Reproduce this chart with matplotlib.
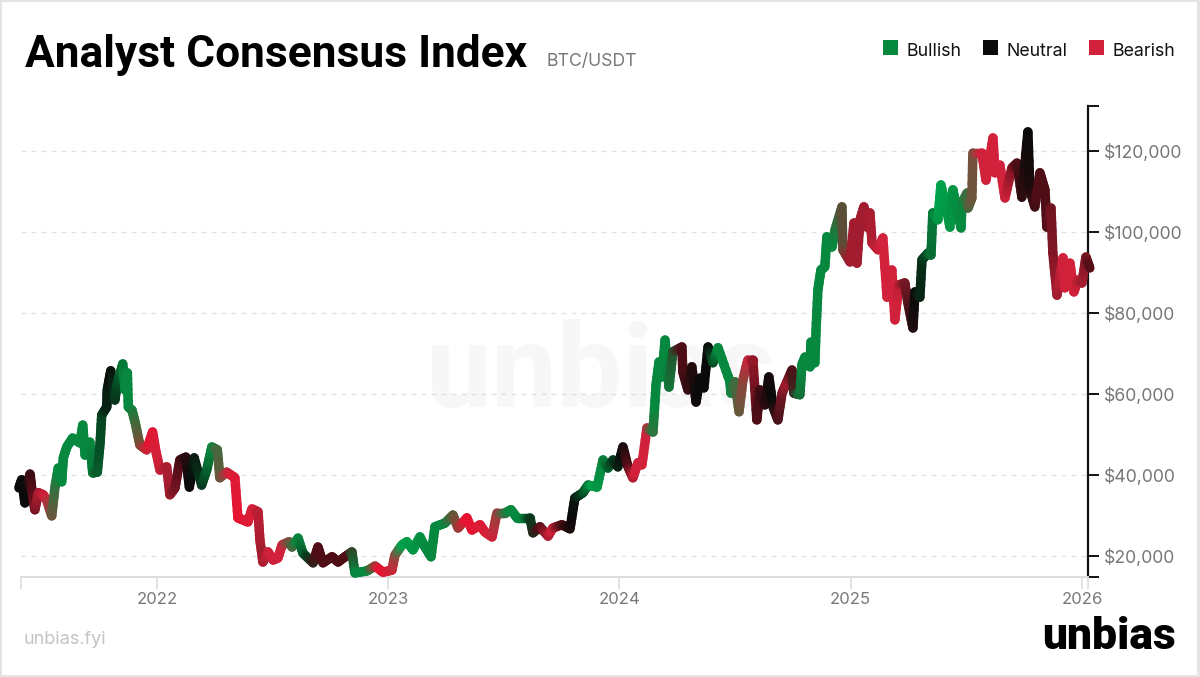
import numpy as np
import matplotlib
matplotlib.use("Agg")
import matplotlib.pyplot as plt
from matplotlib.collections import LineCollection
from matplotlib.colors import to_rgb
from matplotlib.patches import Rectangle

years = [
2021.403,2021.415,2021.429,2021.437,2021.451,2021.463,2021.472,2021.487,2021.508,2021.523,2021.545,2021.559,2021.573,2021.588,2021.595,2021.610,2021.635,2021.667,2021.679,2021.689,
2021.710,2021.722,2021.742,2021.754,2021.761,2021.783,2021.785,2021.800,2021.818,2021.828,2021.852,2021.862,2021.872,2021.876,2021.892,2021.905,2021.926,2021.955,2021.981,2021.994,
2022.013,2022.042,2022.056,2022.078,2022.099,2022.125,2022.140,2022.161,2022.193,2022.215,2022.237,2022.261,2022.272,2022.301,2022.324,2022.337,2022.350,2022.372,2022.393,2022.411,
2022.437,2022.445,2022.458,2022.480,2022.502,2022.523,2022.541,2022.571,2022.584,2022.610,2022.631,2022.675,2022.696,2022.718,2022.757,2022.783,2022.813,2022.843,2022.856,2022.908,
2022.943,2022.977,2023.016,2023.029,2023.059,2023.081,2023.107,2023.137,2023.159,2023.185,2023.202,2023.245,2023.280,2023.302,2023.340,2023.362,2023.397,2023.418,2023.449,2023.470,
2023.505,2023.531,2023.557,2023.613,2023.626,2023.656,2023.691,2023.712,2023.751,2023.786,2023.807,2023.842,2023.864,2023.903,2023.929,2023.950,2023.972,2023.993,2024.015,2024.037,
2024.058,2024.080,2024.097,2024.119,2024.145,2024.158,2024.171,2024.184,2024.197,2024.214,2024.231,2024.270,2024.274,2024.296,2024.313,2024.331,2024.348,2024.365,2024.383,2024.404,
2024.426,2024.478,2024.482,2024.499,2024.517,2024.534,2024.555,2024.577,2024.594,2024.607,2024.629,2024.646,2024.664,2024.685,2024.703,2024.724,2024.746,2024.754,2024.780,2024.789,
2024.802,2024.824,2024.828,2024.845,2024.850,2024.858,2024.871,2024.888,2024.897,2024.919,2024.932,2024.962,2024.966,2024.997,2025.014,2025.027,2025.040,2025.057,2025.070,2025.083,
2025.092,2025.118,2025.139,2025.157,2025.178,2025.191,2025.208,2025.234,2025.247,2025.269,2025.278,2025.299,2025.308,2025.334,2025.347,2025.355,2025.377,2025.390,2025.416,2025.429,
2025.442,2025.477,2025.481,2025.503,2025.507,2025.524,2025.528,2025.567,2025.585,2025.615,2025.624,2025.645,2025.667,2025.697,2025.719,2025.740,2025.766,2025.775,2025.796,2025.818,
2025.840,2025.848,2025.866,2025.874,2025.892,2025.918,2025.926,2025.948,2025.965,2025.982,2026.000,2026.017,2026.034]

price_k = [
36.8,38.8,33.1,36.3,40.2,34.6,31.4,35.6,35.1,33.8,29.9,37.0,41.7,38.3,44.2,46.9,49.1,47.9,52.3,44.9,
48.1,40.5,40.7,47.9,54.8,56.8,61.0,65.7,58.5,62.7,67.4,61.0,65.2,56.8,56.0,53.1,47.4,46.2,50.6,46.2,
41.2,42.0,35.1,36.8,43.7,44.4,37.0,44.2,37.5,41.2,46.9,46.2,39.3,40.7,39.8,39.3,29.4,28.9,28.4,31.6,
30.9,24.0,18.5,21.0,19.0,19.5,22.7,23.5,22.2,24.4,20.7,18.3,22.2,18.3,19.8,18.5,19.8,21.0,15.8,16.3,
17.5,16.0,16.5,20.2,22.7,23.5,21.5,24.7,22.2,19.8,27.2,28.1,30.1,26.9,29.4,26.4,27.7,25.9,24.7,30.6,
30.6,31.4,29.4,29.4,25.7,27.2,24.9,26.9,27.7,26.7,34.3,35.6,37.5,37.0,43.7,41.7,43.7,42.0,46.9,42.0,
39.3,43.0,42.5,51.6,50.6,62.2,67.9,64.2,73.3,61.7,70.4,71.6,65.4,61.0,66.7,58.0,63.9,61.5,71.6,67.7,
71.4,63.0,60.2,63.0,55.6,63.5,68.4,68.4,53.6,61.0,57.3,64.2,56.8,53.6,60.2,63.0,65.9,60.2,59.8,67.2,
69.1,66.7,72.8,67.7,75.8,85.7,90.6,91.4,98.8,96.3,100.5,106.2,95.6,92.6,102.2,92.3,103.0,106.2,101.2,104.7,
97.3,95.6,98.5,83.9,90.6,78.3,86.9,87.4,82.5,76.3,85.2,83.9,93.1,94.8,94.3,104.7,103.0,111.6,105.4,101.2,
110.4,101.0,107.2,109.6,105.9,108.4,119.5,119.5,112.8,123.2,114.6,116.5,108.4,115.8,117.0,108.6,124.7,110.4,106.2,114.6,
110.4,101.2,105.9,94.8,84.4,93.6,86.2,92.3,85.2,88.1,87.4,93.8,91.1]

G, B, H = '#07883f', '#00a34a', '#063d1e'
K, D, M = '#0a0a0a', '#4f0d16', '#a01c2e'
R, E = '#d2213a', '#ea1230'

stop_years = [
2021.403,2021.438,2021.459,2021.485,2021.520,2021.572,2021.710,2021.767,2021.797,2021.823,2021.862,2021.888,2021.970,
2022.004,2022.056,2022.099,2022.143,2022.199,2022.238,2022.316,2022.359,2022.424,2022.454,2022.489,2022.541,2022.610,
2022.653,2022.692,2022.791,2022.830,2022.860,2022.912,2022.964,2023.016,2023.064,2023.172,2023.245,2023.340,2023.449,
2023.526,2023.578,2023.613,2023.656,2023.708,2023.751,2023.799,2023.838,2023.885,2023.929,2023.972,2024.011,2024.037,
2024.067,2024.114,2024.153,2024.205,2024.270,2024.339,2024.383,2024.426,2024.478,2024.564,2024.594,2024.659,2024.724,
2024.746,2024.789,2024.923,2024.997,2025.070,2025.139,2025.200,2025.278,2025.321,2025.364,2025.386,2025.481,2025.567,
2025.667,2025.719,2025.766,2025.805,2025.848,2025.892,2025.918,2025.970,2026.004,2026.034]
stop_colors = [
K,K,D,M,R,G,G,H,K,H,G,G,E,
R,M,D,K,H,G,R,E,R,M,R,R,G,
H,D,D,D,G,G,E,R,B,G,G,E,R,
G,G,H,D,R,D,K,H,B,G,H,K,D,
R,R,G,G,D,K,K,G,G,R,D,K,M,
D,G,G,M,M,R,R,K,H,G,B,G,R,
R,D,K,D,D,M,R,R,M,D]

y_ticks = [20000, 40000, 60000, 80000, 100000, 120000]
x_ticks = [2022, 2023, 2024, 2025, 2026]
legend_labels = ['Bullish', 'Neutral', 'Bearish']
legend_colors = ['#07883f', '#0a0a0a', '#d2213a']

W, H_PX = 1200, 677
plt.rcParams['font.family'] = ['Inter', 'DejaVu Sans']
fig = plt.figure(figsize=(W / 100, H_PX / 100), dpi=100, facecolor='#e4e4e4')
fig.add_artist(Rectangle((2 / W, 1 - 675 / H_PX), 1195 / W, 673 / H_PX, transform=fig.transFigure,
                         facecolor='white', edgecolor='none', zorder=-5))
ax = fig.add_axes([21 / W, 1 - 577 / H_PX, 1067 / W, 471 / H_PX])
ax.patch.set_alpha(0)
ax.set_xlim(2021.412, 2026.026)
ax.set_ylim(14800, 131100)

fig.text(601 / W, 1 - 375 / H_PX, 'unbias', color='#f7f7f7', fontsize=84, fontweight='bold',
         family='Roboto', ha='center', va='center', zorder=-1)

x = np.array(years)
y = np.array(price_k) * 1000
stops = np.array([to_rgb(c) for c in stop_colors])
# each drawn piece of the line takes its colour from the gradient stops, so it blends along x
t = np.linspace(0, 1, 7)
segs, mids = [], []
for i in range(len(x) - 1):
    xs = x[i] + (x[i + 1] - x[i]) * t
    ys = y[i] + (y[i + 1] - y[i]) * t
    for j in range(len(t) - 1):
        segs.append([(xs[j], ys[j]), (xs[j + 1], ys[j + 1])])
        mids.append((xs[j] + xs[j + 1]) / 2)
mids = np.array(mids)
cols = np.column_stack([np.interp(mids, stop_years, stops[:, i]) for i in range(3)])
lc = LineCollection(segs, colors=cols, linewidths=6.8, capstyle='round', joinstyle='round',
                    clip_on=False, zorder=3)
ax.add_collection(lc)

ax.set_yticks(y_ticks)
ax.set_yticklabels([f'${v:,.0f}' for v in y_ticks])
ax.set_xticks(x_ticks)
ax.set_xticklabels([str(v) for v in x_ticks])
ax.set_xticks(list(ax.get_xlim()), minor=True)
ax.set_yticks(list(ax.get_ylim()), minor=True)
ax.grid(axis='y', color='#e2e2e2', linewidth=1.0, linestyle=(0, (3.6, 3.6)), zorder=0)
ax.yaxis.tick_right()
for s in ('top', 'left'):
    ax.spines[s].set_visible(False)
ax.spines['right'].set_color('#111111')
ax.spines['right'].set_linewidth(1.6)
ax.spines['bottom'].set_color('#dddddd')
ax.spines['bottom'].set_linewidth(1.4)
ax.tick_params(axis='y', which='both', length=8, width=1.4, color='#111111', labelsize=12.7,
               labelcolor='#777777', pad=3.5)
ax.tick_params(axis='x', which='both', length=8.6, width=1.2, color='#dddddd', labelsize=12,
               labelcolor='#777777', pad=2.5)

fig.text(25 / W, 1 - 67 / H_PX, 'Analyst Consensus Index', fontsize=31.9, fontweight='bold',
         family='Roboto', color='#000000', ha='left', va='baseline')
fig.text(547 / W, 1 - 66 / H_PX, 'BTC/USDT', fontsize=12.7, color='#777777', ha='left', va='baseline')

for sx, tx, lab, c in zip([883, 983, 1089], [906, 1006, 1113], legend_labels, legend_colors):
    fig.add_artist(Rectangle((sx / W, 1 - 55 / H_PX), 15 / W, 15 / H_PX, transform=fig.transFigure,
                             facecolor=c, edgecolor='none'))
    fig.text(tx / W, 1 - 56 / H_PX, lab, fontsize=12.8, color='#111111', ha='left', va='baseline')

fig.text(24 / W, 1 - 644.5 / H_PX, 'unbias.fyi', fontsize=13, color='#c4c4c4', ha='left', va='baseline')
fig.text(1176 / W, 1 - 649 / H_PX, 'unbias', fontsize=32, fontweight=900, family='Roboto',
         color='#000000', ha='right', va='baseline')

fig.savefig('out.png', dpi=100, facecolor=fig.get_facecolor())
